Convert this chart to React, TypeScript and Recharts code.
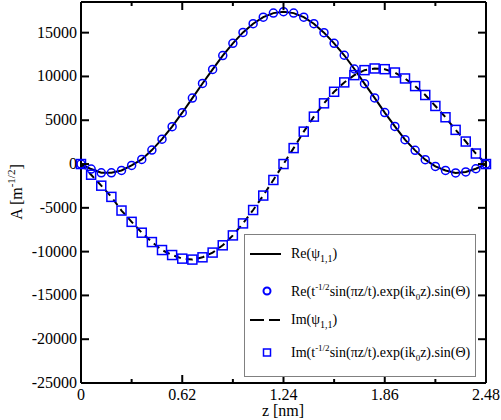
import { ComposedChart, Line, XAxis, YAxis, ReferenceLine } from 'recharts'

const zValues = [
  0, 0.062, 0.124, 0.186, 0.248, 0.31, 0.372, 0.434, 0.496, 0.558, 0.62, 0.682, 0.744, 0.806,
  0.868, 0.93, 0.992, 1.054, 1.116, 1.178, 1.24, 1.302, 1.364, 1.426, 1.488, 1.55, 1.612, 1.674,
  1.736, 1.798, 1.86, 1.922, 1.984, 2.046, 2.108, 2.17, 2.232, 2.294, 2.356, 2.418, 2.48,
]

const reValues = [
  0, -570, -1000, -1000, -730, -160, 520, 1590, 2840, 4270, 5860, 7530, 9200, 10800, 12380,
  13780, 15030, 16020, 16770, 17230, 17390, 17230, 16770, 16020, 15000, 13780, 12420, 10850,
  9180, 7550, 5870, 4290, 2780, 1560, 500, -270, -730, -1020, -900, -540, 0,
]

const imValues = [
  0, -1220, -2470, -3750, -5310, -6600, -7840, -8910, -9820, -10390, -10800, -10910, -10650,
  -10110, -9280, -8150, -6780, -5250, -3600, -1820, 0, 1820, 3700, 5410, 6930, 8250, 9320, 10150,
  10720, 10910, 10830, 10450, 9770, 8900, 7880, 6630, 5340, 3900, 2570, 1200, 0,
]

const xTicks = [0, 0.31, 0.62, 0.93, 1.24, 1.55, 1.86, 2.17, 2.48]
const xTickLabels = ['0', '', '0.62', '', '1.24', '', '1.86', '', '2.48']
const yTicks = [-25000, -20000, -15000, -10000, -5000, 0, 5000, 10000, 15000]

const X_MAX = 2.48
const Y_MIN = -25000
const Y_MAX = 18500

const W = 501
const H = 420
const PLOT_LEFT = 81
const PLOT_TOP = 2
const PLOT_RIGHT = 486
const PLOT_BOTTOM = 383

const BLUE = '#0000ff'
const FONT = 'Liberation Serif'

const data = zValues.map((z, i) => ({ z, re: reValues[i], im: imValues[i] }))

function XTick(props: any) {
  const { x, index } = props
  const label = xTickLabels[index]
  const len = label ? 8 : 4
  return (
    <g>
      <line x1={x} x2={x} y1={PLOT_BOTTOM} y2={PLOT_BOTTOM - len} stroke="#000" strokeWidth={2} />
      <line x1={x} x2={x} y1={PLOT_TOP} y2={PLOT_TOP + len} stroke="#000" strokeWidth={2} />
      {label && (
        <text x={x} y={400} textAnchor="middle" fontSize={16} fontFamily={FONT} fill="#000">
          {label}
        </text>
      )}
    </g>
  )
}

function YTick(props: any) {
  const { y, payload } = props
  return (
    <g>
      <line x1={PLOT_LEFT} x2={PLOT_LEFT + 8} y1={y} y2={y} stroke="#000" strokeWidth={2} />
      <line x1={PLOT_RIGHT} x2={PLOT_RIGHT - 8} y1={y} y2={y} stroke="#000" strokeWidth={2} />
      <text x={PLOT_LEFT - 4} y={y + 5} textAnchor="end" fontSize={16} fontFamily={FONT} fill="#000">
        {payload.value}
      </text>
    </g>
  )
}

function YLabel() {
  const cx = 22
  const cy = 192
  return (
    <text
      x={cx}
      y={cy}
      transform={`rotate(-90, ${cx}, ${cy})`}
      textAnchor="middle"
      fontSize={16}
      fontFamily={FONT}
      fill="#000"
    >
      <tspan>A [m</tspan>
      <tspan dy={-7} fontSize={11}>-1/2</tspan>
      <tspan dy={7}>]</tspan>
    </text>
  )
}

function XLabel() {
  return (
    <text x={283} y={416} textAnchor="middle" fontSize={16} fontFamily={FONT} fill="#000">
      z [nm]
    </text>
  )
}

function SquareDot(p: any) {
  if (p.cx == null || p.cy == null) return null
  return (
    <rect
      key={`sq-${p.index}`}
      x={p.cx - 4.5}
      y={p.cy - 4.5}
      width={9}
      height={9}
      fill="none"
      stroke={BLUE}
      strokeWidth={1.5}
    />
  )
}

function FitText({ part, x, y }: { part: string; x: number; y: number }) {
  return (
    <text x={x} y={y} fontSize={14} fontFamily={FONT} fill="#000">
      <tspan>{part}(t</tspan>
      <tspan dy={-6} fontSize={9}>-1/2</tspan>
      <tspan dy={6}>sin(πz/t).exp(ik</tspan>
      <tspan dy={4} fontSize={9}>0</tspan>
      <tspan dy={-4}>z).sin(Θ)</tspan>
    </text>
  )
}

function PsiText({ part, x, y }: { part: string; x: number; y: number }) {
  return (
    <text x={x} y={y} fontSize={14} fontFamily={FONT} fill="#000">
      <tspan>{part}(ψ</tspan>
      <tspan dy={4} fontSize={10}>1,1</tspan>
      <tspan dy={-4}>)</tspan>
    </text>
  )
}

function LegendBox() {
  return (
    <svg width={232} height={143} style={{ display: 'block' }}>
      <rect x={0.5} y={0.5} width={231} height={142} fill="#fff" stroke="#808080" />
      <line x1={6} x2={37} y1={20} y2={20} stroke="#000" strokeWidth={2} />
      <PsiText part="Re" x={47} y={24} />
      <circle cx={23} cy={57} r={3.5} fill="none" stroke={BLUE} strokeWidth={2} />
      <FitText part="Re" x={47} y={62} />
      <line x1={6} x2={36} y1={86} y2={86} stroke="#000" strokeWidth={2} strokeDasharray="14 5" />
      <PsiText part="Im" x={47} y={90} />
      <rect x={19.5} y={115} width={7} height={7} fill="none" stroke={BLUE} strokeWidth={1.5} />
      <FitText part="Im" x={47} y={123} />
    </svg>
  )
}

export default function App() {
  return (
    <div style={{ position: 'absolute', left: 0, top: 0, width: W, height: H, background: '#fff' }}>
      <ComposedChart
        width={W}
        height={H}
        data={data}
        margin={{ top: PLOT_TOP, right: W - PLOT_RIGHT, bottom: 0, left: 0 }}
      >
        <XAxis
          dataKey="z"
          type="number"
          domain={[0, X_MAX]}
          ticks={xTicks}
          interval={0}
          height={H - PLOT_BOTTOM}
          tickSize={0}
          tickLine={false}
          axisLine={{ stroke: '#000', strokeWidth: 2 }}
          tick={<XTick />}
          label={() => <XLabel />}
        />
        <YAxis
          type="number"
          domain={[Y_MIN, Y_MAX]}
          ticks={yTicks}
          interval={0}
          width={PLOT_LEFT}
          tickSize={0}
          tickLine={false}
          axisLine={{ stroke: '#000', strokeWidth: 2 }}
          tick={<YTick />}
          label={() => <YLabel />}
        />
        <ReferenceLine y={Y_MAX} stroke="#000" strokeWidth={2} />
        <ReferenceLine x={X_MAX} stroke="#000" strokeWidth={2} />
        <Line
          dataKey="re"
          stroke="none"
          isAnimationActive={false}
          dot={{ r: 4, fill: 'none', stroke: BLUE, strokeWidth: 1.5 }}
          activeDot={false}
        />
        <Line
          dataKey="im"
          stroke="none"
          isAnimationActive={false}
          dot={SquareDot}
          activeDot={false}
        />
        <Line dataKey="re" stroke="#000" strokeWidth={2} dot={false} isAnimationActive={false} activeDot={false} />
        <Line
          dataKey="im"
          stroke="#000"
          strokeWidth={2}
          strokeDasharray="7 5"
          dot={false}
          isAnimationActive={false}
          activeDot={false}
        />
      </ComposedChart>
      <div style={{ position: 'absolute', left: 244, top: 234 }}>
        <LegendBox />
      </div>
    </div>
  )
}
